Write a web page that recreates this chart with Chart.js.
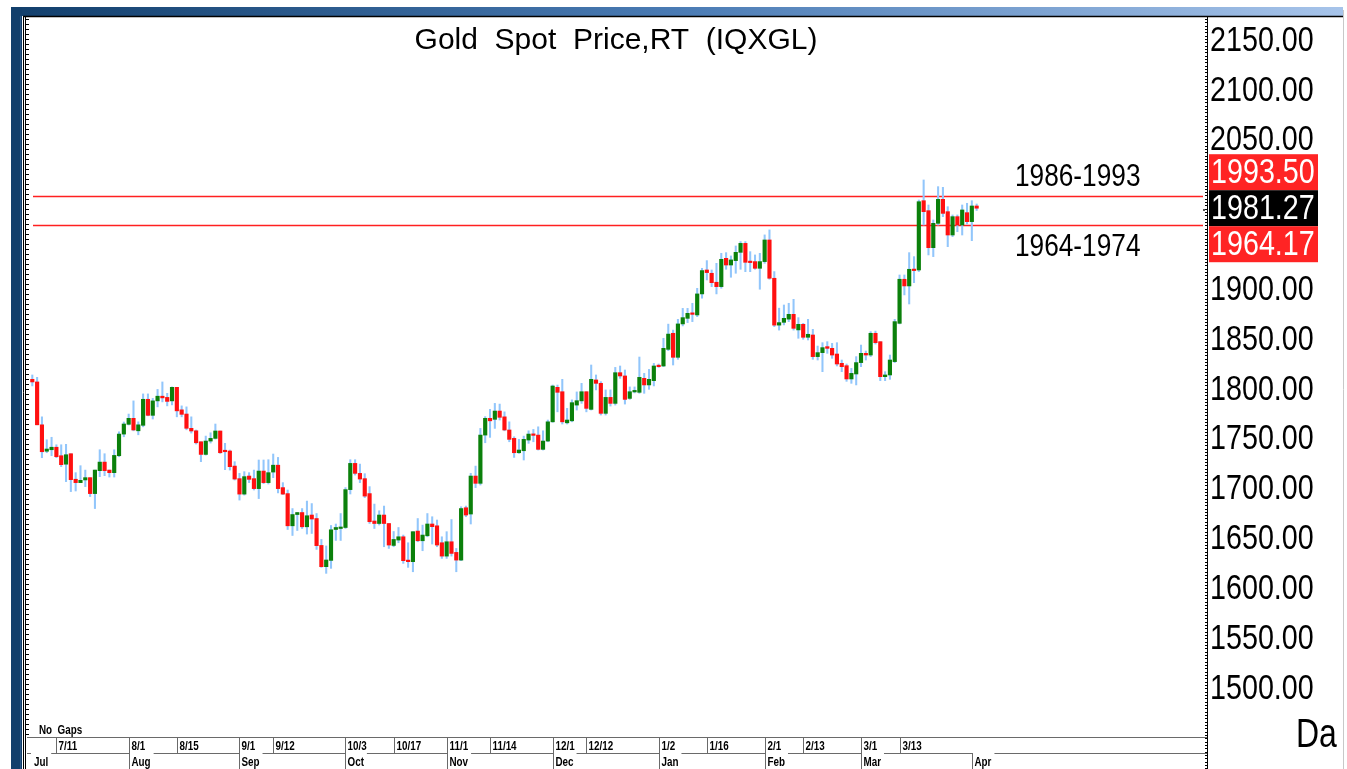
<!DOCTYPE html>
<html>
<head>
<meta charset="utf-8">
<script src="https://cdn.jsdelivr.net/npm/chart.js@4/dist/chart.umd.min.js"></script>
<style>
  html, body { margin: 0; padding: 0; background: #fff; }
  canvas { display: block; }
</style>
</head>
<body>
<canvas id="goldChart" width="1347" height="769"></canvas>
<script>
// daily OHLC, weekdays from 4 Jul 2022 to 4 Apr 2023
var openP = [1809.6,1807,1764,1737.5,1739,1741.5,1733,1724.5,1735,1709.4,1706,1708.7,1711,1695,1718,1726.6,1718.6,1716,1733,1754.7,
  1764.5,1770.5,1758,1763.5,1789.6,1773.5,1788,1792.7,1791.5,1788,1801.6,1779,1774.8,1760.5,1758,1747,1734.3,1747.7,1750.4,1757.8,
  1737.7,1737.7,1722.6,1710,1694.5,1712.6,1710,1700,1717.6,1706,1716.6,1723.5,1701,1695,1662.7,1674,1676,1661.7,1673.5,1670,
  1643,1621.7,1628,1659,1660,1661,1699,1725.3,1715.3,1710,1695,1667.5,1665,1673.5,1665,1643,1648.4,1651.7,1628.3,1626.7,
  1657.4,1647.7,1652.7,1664.5,1662.7,1645.7,1632.3,1646.7,1636,1628.3,1680.8,1674.5,1712.6,1705.3,1753.7,1770.5,1769.5,1777.8,1772,1758.8,
  1750.4,1736,1738,1748.7,1754.7,1753.7,1739.4,1747.7,1767,1801.6,1797.2,1766,1768,1783.8,1788,1797.2,1779.5,1809,1805.6,1775.5,
  1791.5,1785.5,1816.3,1813,1790.5,1797,1796.6,1810.6,1804,1808.3,1823.3,1823,1839.7,1855.8,1831.7,1865.2,1870.8,1875.8,1874.2,1895.3,
  1919.3,1916,1907,1902.6,1931,1924.3,1928.7,1937,1946,1927.7,1927.7,1921,1927.7,1949.4,1911,1864,1866.8,1870,1874.8,1859.2,
  1864.8,1851.8,1854.1,1832.4,1836.4,1842.4,1840.7,1835,1825.7,1823.3,1810,1815,1826.4,1835.7,1834,1855.8,1847.4,1812.3,1814,1827.4,
  1865.8,1910,1903.3,1920,1919.3,1988.8,1978.8,1941.7,1966.1,1990.2,1977.8,1954.4,1972.8,1964.4,1976.8,1967.8,1983.5];
var highP = [1814,1811.6,1772,1749,1751.5,1744,1744,1744.4,1735,1716,1723,1718.6,1711,1718.6,1739,1735,1718.6,1739,1757,1766.8,
  1774.8,1788,1767,1795,1795,1790.5,1799.5,1807,1795.6,1802,1801.6,1783,1782,1772,1758.8,1747,1752.7,1756,1764.8,1757.8,
  1745.4,1738.7,1727,1715.3,1717,1716,1718.6,1728.7,1728.7,1729,1734.7,1731.3,1706,1698.6,1680,1676,1680,1687.5,1685,1675,
  1649,1642.5,1663,1664.5,1675,1701,1729,1729,1724.6,1715,1702,1684.5,1677.8,1682.5,1665,1657,1661,1653.4,1645.7,1656.8,
  1670,1663.4,1675,1671.8,1668.5,1651.7,1656.8,1669,1640,1681.8,1682.5,1715.3,1722.6,1760.4,1772.2,1779.5,1785.5,1784.8,1777,1767,
  1752,1749.4,1752.7,1758,1759.4,1762,1758,1768.8,1803.9,1803.9,1809.6,1780.5,1789,1797,1805.6,1797.2,1824,1814,1807.3,1799,
  1799,1821.6,1823,1819,1802,1802,1832,1815.6,1819.6,1825.6,1825,1850.8,1865,1859,1869.8,1880.8,1880.8,1885.9,1900.9,1921,
  1928.7,1919.3,1926,1936,1936.7,1933.4,1943.4,1947.8,1947.8,1937.7,1934.4,1936,1954.5,1959.5,1917.7,1881,1884.2,1885.9,1889.9,1871.5,
  1865.8,1869.8,1859.8,1843,1846.4,1847.4,1845.7,1846.4,1829,1825,1820.6,1832.4,1844,1838,1857.5,1858,1847.4,1817.3,1834,1869.8,
  1914.3,1914.3,1936.7,1932.7,1989.5,2009.6,1984.5,1969.5,2002.9,2002.2,1982.8,1974.5,1974.5,1984.5,1986.2,1988.8,1985.5];
var lowP = [1803,1764,1731,1736,1733,1731,1722,1707,1697,1697.6,1706,1702,1692,1680,1712,1713,1711.6,1711.6,1732,1752,
  1763.8,1758,1754,1762,1773,1769.8,1782,1787,1783,1784,1772,1772,1759,1755.7,1744.7,1727,1733.6,1745.7,1749.7,1735.3,
  1719,1718.6,1708.6,1688.5,1693.5,1706,1698.6,1690,1705,1704.6,1711,1695.7,1694,1659,1653,1658,1660,1654.4,1655,1639,
  1621,1615,1620,1648,1648,1660,1694.6,1713.6,1706,1691,1665,1660,1663.5,1641.7,1640,1641.7,1645.7,1625,1621,1616.6,
  1646.7,1637.7,1651.7,1644.4,1641.7,1630,1630,1632.3,1616.6,1627.7,1671.8,1664.5,1701,1703.6,1746,1751.4,1760.4,1768.8,1758,1747,
  1731.3,1735.3,1728.7,1745.4,1747,1738.7,1738.7,1747,1766.5,1777,1764.8,1764.8,1767,1778.8,1785.5,1777,1778.8,1799,1773.8,1773.8,
  1782.8,1783.8,1810.6,1784.8,1789.5,1796,1795.6,1795.6,1799.6,1803,1821.6,1822.3,1838.4,1824,1829.7,1863.2,1866.5,1867.5,1872.5,1891,
  1909.3,1902.6,1895.3,1901,1920,1912,1916,1920,1917.6,1917.6,1920,1900,1926,1910,1862.5,1859,1864.2,1867.5,1859,1850.8,
  1849.8,1849.1,1829.7,1829,1817.3,1835.7,1830.7,1823,1817.3,1807.6,1805.6,1804,1822.3,1829,1832.4,1845,1808.3,1808.3,1809.6,1826.4,
  1865.2,1894.3,1885.2,1906.6,1917.7,1964.4,1934.4,1932.7,1964.4,1972.8,1942.7,1952.7,1957.7,1954.4,1965.4,1948.7,1979];
var closeP = [1807,1764,1737,1739.7,1741.5,1732,1724,1734,1709,1706,1708.3,1711,1695,1718.6,1726.6,1718,1716,1733.3,1754.7,1764.8,
  1770.5,1758.8,1764,1789.6,1773.5,1788,1792.7,1791,1787.5,1801.6,1778,1774.5,1760.5,1757.8,1746,1734.3,1747.7,1750.4,1757.8,1736,
  1737,1722,1709.6,1694.5,1712,1709.3,1700,1717.6,1706,1716,1723.5,1700,1694.5,1662.7,1674,1676,1661.7,1672.8,1669.5,1642.8,
  1621.7,1628.4,1658.7,1661,1661.5,1699,1725.3,1715.3,1709.6,1692.5,1666.8,1665,1673.5,1665,1643.4,1649,1651.7,1627.7,1626.7,1656.8,
  1647.7,1653.4,1664.5,1661.8,1643.4,1632.3,1646.7,1635,1628.3,1680,1673.5,1712.6,1705.3,1753.7,1770.5,1768,1777.8,1771.5,1758.8,1749.4,
  1736,1738.7,1749.4,1754.7,1753.4,1739.4,1747.7,1767,1802.9,1796.6,1767,1768.8,1786.2,1788.2,1797.2,1780.5,1809.6,1805.6,1775.5,1791.5,
  1785.5,1816.3,1813,1789.5,1797.2,1798,1811.6,1804,1809.6,1823,1822.3,1840.7,1855,1831.7,1865.2,1871.5,1875.8,1874.8,1895.3,1918.7,
  1916.7,1906.6,1902.6,1930,1924.3,1929.4,1937,1946,1927,1926.7,1921,1927.7,1949.4,1911,1864,1866.5,1870.8,1874.8,1860.8,1864.8,
  1851.8,1854.8,1832.4,1836.4,1841.4,1840.7,1834,1825,1822.3,1810,1815.6,1826.4,1835.7,1834,1855.8,1846.4,1812.3,1814,1829,1867.5,
  1910,1903.3,1920,1918.7,1987.8,1977.8,1941.7,1966.1,1990.2,1976.1,1954.4,1972.8,1964.4,1979.5,1967.8,1983.5,1981.27];

var yTicks = [1500, 1550, 1600, 1650, 1700, 1750, 1800, 1850, 1900, 2050, 2100, 2150];
var levels = [1993.50, 1964.17];
var levelNames = ['1986-1993', '1964-1974'];
var lastPrice = 1981.27;
var dateTicks = ['7/11','8/1','8/15','9/1','9/12','10/3','10/17','11/1','11/14','12/1','12/12','1/2','1/16','2/1','2/13','3/1','3/13'];
var monthNames = ['Jul','Aug','Sep','Oct','Nov','Dec','Jan','Feb','Mar','Apr'];
var monthFirst = ['7/4','8/1','9/1','10/3','11/1','12/1','1/2','2/1','3/1','4/3'];

// trading days (weekdays) as categories
var dates = [];
for (var d = new Date(2022, 6, 4); dates.length < openP.length; d.setDate(d.getDate() + 1)) {
  if (d.getDay() == 0 || d.getDay() == 6) continue;
  dates.push((d.getMonth() + 1) + '/' + d.getDate());
}

var SANS = "'Liberation Sans', Arial, sans-serif";
var GREEN = '#0b800b', RED = '#ff1010', WICK = '#92c6fb';

// no narrow face installed: squeeze Arial metrics to Arial Narrow width
function narrow(c, text, x, y, size, weight, sx) {
  c.save();
  c.translate(x, y);
  c.scale(sx || 0.82, 1);
  c.font = (weight ? weight + ' ' : '') + size + 'px ' + SANS;
  c.fillText(text, 0, 0);
  var w = c.measureText(text).width * (sx || 0.82);
  c.restore();
  return w;
}

var frame = {
  id: 'frame',
  beforeDraw: function (chart) {
    var c = chart.ctx;
    c.save();
    c.fillStyle = '#fff';
    c.fillRect(0, 0, chart.width, chart.height);
    // window chrome
    var g = c.createLinearGradient(11, 0, 1343, 0);
    g.addColorStop(0, '#123f6c');
    g.addColorStop(0.5, '#4a7bb4');
    g.addColorStop(1, '#a7c4ea');
    c.fillStyle = g;
    c.fillRect(11, 7, 1332, 9);
    c.fillStyle = '#123f6c';
    c.fillRect(11, 7, 11, 762);
    c.fillStyle = '#2d5a88';
    c.fillRect(20, 16, 1, 753);
    c.strokeStyle = '#000';
    c.lineWidth = 1.5;
    c.beginPath();
    c.moveTo(23, 16.5); c.lineTo(1343, 16.5);
    c.stroke();
    c.lineWidth = 1;
    c.beginPath();
    c.moveTo(23.5, 16); c.lineTo(23.5, 769);
    c.moveTo(25.5, 17); c.lineTo(25.5, 769);
    c.stroke();
    c.strokeStyle = '#c8c8c8';
    c.beginPath();
    c.moveTo(1343.5, 10); c.lineTo(1343.5, 769);
    c.stroke();
    // left minor ticks
    c.strokeStyle = '#000';
    c.beginPath();
    for (var y = 19; y < 737; y += 5) { c.moveTo(26, y + 0.5); c.lineTo(29, y + 0.5); }
    c.stroke();
    // title
    c.fillStyle = '#000';
    c.font = '30px ' + SANS;
    c.textAlign = 'center';
    c.textBaseline = 'alphabetic';
    c.fillText('Gold  Spot  Price,RT  (IQXGL)', 616, 49);
    c.restore();
  },
  beforeDatasetsDraw: function (chart) {
    var c = chart.ctx, a = chart.chartArea, ys = chart.scales.y;
    c.save();
    c.strokeStyle = '#ff2020';
    c.lineWidth = 1.5;
    levels.forEach(function (v) {
      var y = Math.round(ys.getPixelForValue(v)) + 0.5;
      c.beginPath(); c.moveTo(33, y); c.lineTo(a.right - 4, y); c.stroke();
    });
    c.restore();
  },
  afterDraw: function (chart) {
    var c = chart.ctx, a = chart.chartArea, ys = chart.scales.y, xs = chart.scales.x;
    c.save();
    c.textAlign = 'left';
    // right axis line with dotted ticks
    c.strokeStyle = '#000';
    c.lineWidth = 1;
    c.beginPath();
    c.moveTo(a.right + 0.5, a.top); c.lineTo(a.right + 0.5, 769);
    c.stroke();
    c.beginPath();
    for (var y = a.top + 2; y < 769; y += 3.33) { c.moveTo(a.right - 2, Math.round(y) + 0.5); c.lineTo(a.right, Math.round(y) + 0.5); }
    c.stroke();

    // price scale labels
    c.fillStyle = '#000';
    c.textBaseline = 'middle';
    yTicks.forEach(function (v) {
      narrow(c, v.toFixed(2), a.right + 3, ys.getPixelForValue(v) + 1, 35);
    });

    // level labels
    c.textBaseline = 'alphabetic';
    narrow(c, levelNames[0], 1015, ys.getPixelForValue(levels[0]) - 10, 32);
    c.textBaseline = 'top';
    narrow(c, levelNames[1], 1015, ys.getPixelForValue(levels[1]) + 6, 32);

    // price boxes
    var py = ys.getPixelForValue(lastPrice);
    var boxes = [[levels[0], '#ff2424', py - 54], [lastPrice, '#000', py - 18], [levels[1], '#ff2424', py + 18]];
    c.textBaseline = 'middle';
    boxes.forEach(function (b) {
      c.fillStyle = b[1];
      c.fillRect(a.right + 2, b[2], 109, 36);
      c.fillStyle = '#fff';
      narrow(c, b[0].toFixed(2), a.right + 4, b[2] + 19, 35);
    });
    c.fillStyle = '#555';
    c.fillRect(a.right - 4, Math.round(py) + 1, 2, 2);

    // "Da" axis caption
    c.fillStyle = '#000';
    c.textBaseline = 'alphabetic';
    narrow(c, 'Da', 1296, 747, 41, '', 0.78);

    // date axis boxes
    var bottom = a.bottom;
    c.strokeStyle = '#6a6a6a';
    c.beginPath();
    c.moveTo(a.left, bottom + 0.5); c.lineTo(a.right, bottom + 0.5);
    c.stroke();
    narrow(c, 'No  Gaps', 39, bottom - 3, 12, 'bold');
    dateTicks.forEach(function (t) {
      var x = Math.round(xs.getPixelForValue(dates.indexOf(t))) + 0.5;
      c.beginPath(); c.moveTo(x, bottom); c.lineTo(x, bottom + 16); c.stroke();
      narrow(c, t, x + 2, bottom + 13, 12, 'bold');
    });
    var mx = monthFirst.map(function (t) { return Math.round(xs.getPixelForValue(dates.indexOf(t))) + 0.5; });
    mx[0] = a.left + 5;
    mx.forEach(function (x, i) {
      var next = i + 1 < mx.length ? mx[i + 1] : a.right;
      if (i > 0) { c.beginPath(); c.moveTo(x, bottom + 16); c.lineTo(x, 769); c.stroke(); }
      var w = narrow(c, monthNames[i], x + 2, bottom + 29, 12, 'bold');
      c.beginPath(); c.moveTo(x + w + 5, bottom + 16.5); c.lineTo(next, bottom + 16.5); c.stroke();
    });
    c.beginPath(); c.moveTo(a.left, bottom + 16.5); c.lineTo(a.left + 4, bottom + 16.5); c.stroke();
    c.restore();
  }
};

var bodies = dates.map(function (t, i) { return { x: i, y: [openP[i], closeP[i]] }; });
var wicks = dates.map(function (t, i) { return { x: i, y: [lowP[i], highP[i]] }; });
var bodyColors = closeP.map(function (v, i) { return v >= openP[i] ? GREEN : RED; });

var ctx = document.getElementById('goldChart').getContext('2d');
var goldChart = new Chart(ctx, {
  type: 'bar',
  data: {
    labels: dates,
    datasets: [{
      label: 'body',
      data: bodies,
      backgroundColor: bodyColors,
      barThickness: 3.5,
      minBarLength: 1.5,
      grouped: false,
      order: 0
    }, {
      label: 'wick',
      data: wicks,
      backgroundColor: WICK,
      barThickness: 1.4,
      grouped: false,
      order: 1
    }]
  },
  options: {
    responsive: false,
    animation: false,
    layout: { padding: { left: 27, top: 17, right: 0, bottom: 0 } },
    plugins: { legend: { display: false }, tooltip: { enabled: false } },
    scales: {
      x: {
        type: 'linear',
        offset: false,
        min: -1.1,
        max: 243.81,
        grid: { display: false },
        border: { display: false },
        ticks: { display: false },
        afterFit: function (s) { s.height = 32; }
      },
      y: {
        position: 'right',
        min: 1450.85,
        max: 2173.07,
        grid: { display: false, drawTicks: false },
        border: { display: false },
        ticks: { display: false },
        afterFit: function (s) { s.width = 140; }
      }
    }
  },
  plugins: [frame]
});
</script>
</body>
</html>
